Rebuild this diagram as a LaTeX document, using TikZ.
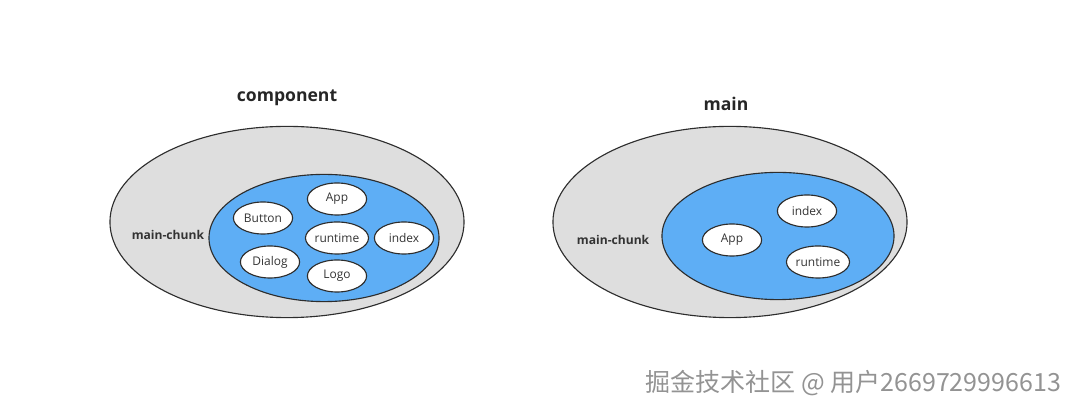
\documentclass[tikz,border=0pt]{standalone}
\usepackage{fontspec}
\setmainfont{Open Sans}
\newfontfamily\cjkfont{Noto Sans CJK SC}
\usepackage{tikz}
\usetikzlibrary{shapes.geometric,positioning}
\definecolor{chunkgray}{RGB}{222,222,222}
\definecolor{chunkblue}{RGB}{94,174,245}
\definecolor{edgegray}{RGB}{45,45,45}

\begin{document}
\begin{tikzpicture}[
    x=0.025cm, y=-0.025cm,
    outer/.style={ellipse, draw=edgegray, line width=0.8pt, fill=chunkgray, inner sep=0pt, minimum width=8.85cm, minimum height=4.78cm},
    inner/.style={ellipse, draw=edgegray, line width=0.8pt, fill=chunkblue, inner sep=0pt, minimum height=3.18cm},
    module/.style={ellipse, draw=edgegray, line width=0.8pt, fill=white, inner sep=0pt, minimum width=1.48cm, minimum height=0.8cm, font=\fontsize{8.5}{10}\selectfont, text=black!80},
    chunklabel/.style={font=\fontsize{8.6}{11}\selectfont\bfseries, text=black!80},
    title/.style={font=\fontsize{12.5}{15}\selectfont\bfseries, text=black!85}
]
\useasboundingbox (0,0) rectangle (1080,411);

% Left: component
\node[title] (compTitle) at (287,98) {component};
\node[outer] (compOuter) at (287,222) {};
\node[inner, minimum width=5.75cm] (compInner) at (324,238) {};
\node[chunklabel, anchor=east] (compChunk) at (209,235) {main-chunk};
\node[module] (compApp) at (337,199) {App};
\node[module] (compButton) at (263,218) {Button};
\node[module] (compRuntime) at (337,238) {runtime};
\node[module] (compIndex) at (404,238) {index};
\node[module] (compDialog) at (270,262) {Dialog};
\node[module] (compLogo) at (337,276) {Logo};

% Right: main
\node[title] (mainTitle) at (726,104) {main};
\node[outer] (mainOuter) at (730,222) {};
\node[inner, minimum width=5.8cm] (mainInner) at (778,236) {};
\node[chunklabel, anchor=west] (mainChunk) at (572,240) {main-chunk};
\node[module] (mainApp) at (732,240) {App};
\node[module] (mainIndex) at (807,211) {index};
\node[module] (mainRuntime) at (818,262) {runtime};

% watermark
\node[anchor=east, font=\cjkfont\fontsize{17.8}{20}\selectfont, text=gray!85] (mark) at (1066,383) {掘金技术社区 @ 用户2669729996613};
\end{tikzpicture}
\end{document}
